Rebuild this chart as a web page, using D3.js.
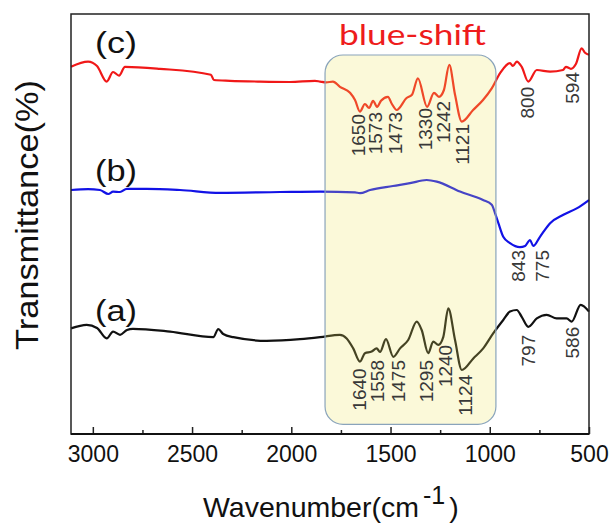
<!DOCTYPE html>
<html>
<head>
<meta charset="utf-8">
<title>FTIR spectra</title>
<script src="https://cdn.jsdelivr.net/npm/d3@7"></script>
<style>
body {
  margin: 0;
  background: #ffffff;
}
svg text {
  font-family: "Liberation Sans", Arial, sans-serif;
}
.tick text {
  font-size: 23px;
  fill: #111;
}
.peak {
  font-size: 19px;
  fill: #383838;
}
</style>
</head>
<body>
<div id="chart"></div>
<script>
// spectrum (c) - red
var cWave = [3110, 3024, 2979, 2930, 2898, 2868, 2838, 2662, 2405, 2390, 2309, 2158, 2007, 1881, 1855, 1825, 1790,
  1755, 1704, 1679, 1654, 1629, 1608, 1588, 1568, 1548, 1513, 1493, 1469, 1419, 1392, 1362, 1316, 1281, 1256,
  1231, 1204, 1175, 1141, 1084, 1034, 990, 948, 898, 883, 864, 839, 806, 763, 696, 631, 616, 591, 566, 537, 520, 500];
var cTrans = [91.8, 93.1, 92.0, 88.1, 90.5, 89.6, 91.8, 91.3, 89.8, 88.5, 88.3, 88.1, 88.0, 88.3, 88.1, 87.9, 88.1,
  86.8, 85.3, 83.5, 80.6, 82.5, 81.5, 83.3, 81.8, 83.3, 84.3, 82.5, 81.0, 84.0, 84.8, 88.9, 81.8, 85.3, 84.3,
  86.0, 92.3, 84.8, 78.1, 81.0, 83.5, 86.4, 90.2, 92.7, 92.0, 93.1, 91.8, 88.1, 91.0, 90.6, 91.0, 91.8, 91.3, 92.5, 96.4, 95.3, 94.8];

// spectrum (b) - blue
var bWave = [3110, 3024, 2964, 2922, 2898, 2863, 2829, 2729, 2561, 2359, 2057, 1855, 1679, 1654, 1603, 1488, 1402,
  1318, 1267, 1150, 1034, 990, 974, 957, 932, 898, 848, 822, 797, 781, 747, 696, 629, 562, 500];
var bTrans = [61.0, 61.2, 61.0, 60.0, 60.6, 60.5, 61.3, 61.3, 61.0, 60.3, 60.5, 60.6, 60.4, 60.2, 61.0, 62.0, 62.7,
  63.5, 63.1, 60.6, 58.5, 57.3, 55.3, 52.8, 49.3, 47.7, 46.7, 47.0, 48.5, 47.0, 49.3, 52.7, 54.8, 56.4, 58.5];

// spectrum (a) - black
var aWave = [3110, 3031, 2979, 2930, 2898, 2863, 2828, 2798, 2611, 2393, 2368, 2343, 2292, 2124, 1956, 1855, 1755,
  1721, 1688, 1654, 1629, 1595, 1570, 1553, 1523, 1486, 1452, 1411, 1368, 1343, 1310, 1285, 1259, 1234, 1209,
  1175, 1141, 1083, 1033, 982, 932, 898, 864, 839, 806, 763, 713, 663, 613, 587, 542, 500];
var aTrans = [26.4, 27.3, 26.5, 23.9, 25.6, 24.8, 26.0, 26.3, 25.6, 24.2, 26.2, 25.0, 24.2, 23.3, 23.7, 24.2, 24.8,
  23.9, 21.4, 18.1, 20.2, 20.6, 21.4, 20.5, 23.7, 19.3, 21.4, 23.5, 28.1, 26.0, 20.2, 23.1, 22.3, 24.3, 31.4,
  23.5, 16.0, 18.9, 21.4, 25.2, 28.5, 30.6, 31.0, 29.3, 26.8, 28.9, 29.8, 28.9, 28.9, 28.1, 32.3, 30.6];

// peak labels: text, wavenumber where the label sits, transmittance of its upper end
var cPeaks = ["1650", "1573", "1473", "1330", "1242", "1121", "800", "594"];
var cPeakAt = [1662, 1578, 1477, 1326, 1234, 1141, 814, 583];
var cPeakTop = [80, 80.5, 80.5, 81.5, 83.3, 77.5, 86.8, 90.5];

var bPeaks = ["843", "775"];
var bPeakAt = [856, 738];
var bPeakTop = [46, 46];

var aPeaks = ["1640", "1558", "1475", "1295", "1240", "1124", "797", "586"];
var aPeakAt = [1659, 1566, 1461, 1318, 1226, 1125, 806, 587];
var aPeakTop = [16.4, 18.5, 18.5, 18.5, 22.3, 14.8, 24.8, 26.8];

var majorTicks = [3000, 2500, 2000, 1500, 1000, 500];
var minorTicks = [2750, 2250, 1750, 1250, 750];

// highlighted region [from, to] in wavenumber and transmittance
var boxWave = [1830, 969];
var boxTrans = [94.75, 2.4];

var width = 611, height = 525;
var margin = {left: 71, right: 22, top: 14, bottom: 91};

var svg = d3.select("#chart").append("svg")
  .attr("width", width)
  .attr("height", height);

var x = d3.scaleLinear().domain([3110, 500]).range([margin.left, width - margin.right]);
var y = d3.scaleLinear().domain([0, 105]).range([height - margin.bottom, margin.top]);

function toPoints(wave, trans) {
  return wave.map(function(w, i) { return [w, trans[i]]; });
}

var line = d3.line()
  .x(function(d) { return x(d[0]); })
  .y(function(d) { return y(d[1]); })
  .curve(d3.curveMonotoneX);

var series = [
  {pts: toPoints(cWave, cTrans), color: "#f01818"},
  {pts: toPoints(bWave, bTrans), color: "#1212e6"},
  {pts: toPoints(aWave, aTrans), color: "#111111"}
];

series.forEach(function(s) {
  svg.append("path")
    .attr("d", line(s.pts))
    .attr("fill", "none")
    .attr("stroke", s.color)
    .attr("stroke-width", 2.2)
    .attr("stroke-linejoin", "round");
});

// translucent highlight box lies over the curves
svg.append("rect")
  .attr("x", x(boxWave[0]))
  .attr("y", y(boxTrans[0]))
  .attr("width", x(boxWave[1]) - x(boxWave[0]))
  .attr("height", y(boxTrans[1]) - y(boxTrans[0]))
  .attr("rx", 18)
  .attr("fill", "rgb(240,228,96)")
  .attr("fill-opacity", 0.24)
  .attr("stroke", "#8aa4bb")
  .attr("stroke-width", 1.2);

function peakLabels(texts, at, top) {
  texts.forEach(function(t, i) {
    svg.append("text")
      .attr("class", "peak")
      .attr("transform", "translate(" + x(at[i]) + "," + y(top[i]) + ") rotate(-90)")
      .attr("dy", "0.36em")
      .attr("text-anchor", "end")
      .text(t);
  });
}
peakLabels(cPeaks, cPeakAt, cPeakTop);
peakLabels(bPeaks, bPeakAt, bPeakTop);
peakLabels(aPeaks, aPeakAt, aPeakTop);

// frame
var plotBottom = height - margin.bottom;
svg.append("rect")
  .attr("x", margin.left)
  .attr("y", margin.top)
  .attr("width", width - margin.left - margin.right)
  .attr("height", plotBottom - margin.top)
  .attr("fill", "none")
  .attr("stroke", "#222")
  .attr("stroke-width", 1.5);

var xAxis = svg.append("g")
  .attr("transform", "translate(0," + plotBottom + ")")
  .call(d3.axisBottom(x).tickValues(majorTicks).tickSize(-7).tickPadding(12).tickFormat(d3.format("d")));
xAxis.select(".domain").remove();
xAxis.selectAll("line").attr("stroke", "#222").attr("stroke-width", 1.5);

var xMinor = svg.append("g")
  .attr("transform", "translate(0," + plotBottom + ")")
  .call(d3.axisBottom(x).tickValues(minorTicks).tickSize(-4).tickFormat(""));
xMinor.select(".domain").remove();
xMinor.selectAll("line").attr("stroke", "#222").attr("stroke-width", 1.5);

svg.append("line")
  .attr("x1", margin.left).attr("x2", width - margin.right)
  .attr("y1", plotBottom).attr("y2", plotBottom)
  .attr("stroke", "#111")
  .attr("stroke-width", 2.2);

// series names
var names = [["(c)", 53], ["(b)", 181], ["(a)", 321]];
names.forEach(function(n) {
  svg.append("text")
    .attr("x", 95)
    .attr("y", n[1])
    .attr("font-size", 30)
    .attr("textLength", 42)
    .attr("lengthAdjust", "spacingAndGlyphs")
    .attr("fill", "#111")
    .text(n[0]);
});

svg.append("text")
  .attr("x", 339)
  .attr("y", 45)
  .attr("font-size", 28)
  .attr("textLength", 147)
  .attr("lengthAdjust", "spacingAndGlyphs")
  .style("font-family", "Lato, 'Open Sans', sans-serif")
  .attr("fill", "#ee1c1c")
  .text("blue-shift");

// axis titles
svg.append("text")
  .attr("transform", "translate(38,215) rotate(-90)")
  .attr("text-anchor", "middle")
  .attr("font-size", 31)
  .attr("textLength", 270)
  .attr("lengthAdjust", "spacingAndGlyphs")
  .attr("fill", "#111")
  .text("Transmittance(%)");

var xTitle = svg.append("text")
  .attr("x", 203)
  .attr("y", 517)
  .attr("font-size", 28.5)
  .attr("fill", "#111");
xTitle.append("tspan").text("Wavenumber(cm");
xTitle.append("tspan").attr("dx", 4).attr("dy", -13).attr("font-size", 25).text("-1");
xTitle.append("tspan").attr("dx", 4).attr("dy", 13).text(")");
</script>
</body>
</html>
